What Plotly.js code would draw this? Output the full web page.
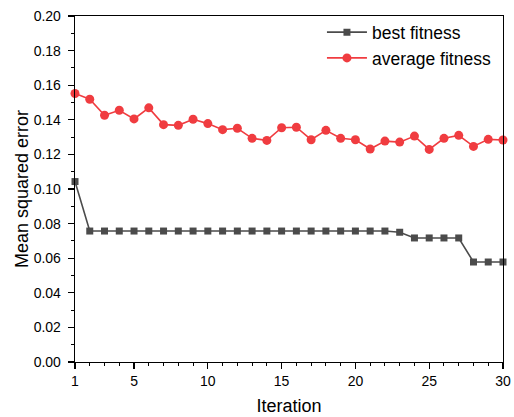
<!DOCTYPE html>
<html>
<head>
<meta charset="utf-8">
<script src="https://cdn.plot.ly/plotly-3.0.1.min.js"></script>
<style>html,body{margin:0;padding:0;background:#fff;}#chart{width:514px;height:417px;}</style>
</head>
<body>
<div id="chart"></div>
<script>
const iterations = [1,2,3,4,5,6,7,8,9,10,11,12,13,14,15,16,17,18,19,20,21,22,23,24,25,26,27,28,29,30];
const bestFitness = [0.1043,0.0757,0.0757,0.0757,0.0757,0.0757,0.0757,0.0757,0.0757,0.0757,0.0757,0.0757,0.0757,0.0757,0.0757,0.0757,0.0757,0.0757,0.0757,0.0757,0.0757,0.0757,0.0750,0.0717,0.0717,0.0717,0.0717,0.0578,0.0578,0.0578];
const averageFitness = [0.1552,0.1519,0.1426,0.1455,0.1405,0.1469,0.1372,0.1368,0.1403,0.1378,0.1343,0.1351,0.1293,0.1281,0.1354,0.1357,0.1285,0.1339,0.1293,0.1285,0.1231,0.1277,0.1271,0.1306,0.1229,0.1293,0.1310,0.1246,0.1287,0.1283];
const xTickVals = [1,5,10,15,20,25,30];
const seriesNames = ['best fitness','average fitness'];

const traces = [
  {x: iterations, y: bestFitness, name: seriesNames[0], type: 'scatter', mode: 'lines+markers',
   line: {color: '#4b4b4b', width: 1.6}, marker: {symbol: 'square', size: 7, color: '#4b4b4b'}, cliponaxis: false},
  {x: iterations, y: averageFitness, name: seriesNames[1], type: 'scatter', mode: 'lines+markers',
   line: {color: '#f03c40', width: 1.6}, marker: {symbol: 'circle', size: 9, color: '#f03c40'}, cliponaxis: false}
];

const layout = {
  width: 514, height: 417,
  margin: {l: 75, r: 11, t: 16, b: 55},
  paper_bgcolor: '#fff', plot_bgcolor: '#fff',
  font: {family: 'Arial, Liberation Sans, sans-serif', color: '#000', size: 14},
  showlegend: true,
  legend: {x: 0.577, y: 1.005, xanchor: 'left', yanchor: 'top', bgcolor: 'rgba(0,0,0,0)',
           font: {size: 17.5, color: '#000'}, tracegroupgap: 0, itemwidth: 40},
  xaxis: {range: [1, 30], tickmode: 'array', tickvals: xTickVals, ticks: 'outside', ticklen: 6, tickwidth: 1.3,
          tickcolor: '#000', showline: true, linecolor: '#000', linewidth: 1.3, mirror: true, showgrid: false, zeroline: false,
          minor: {dtick: 1, ticks: 'outside', ticklen: 3, tickwidth: 1, tickcolor: '#000', showgrid: false},
          title: {text: 'Iteration', font: {size: 18}, standoff: 11}, tickfont: {size: 14}},
  yaxis: {range: [0, 0.2], dtick: 0.02, tickformat: '.2f', ticks: 'outside', ticklen: 6, tickwidth: 1.3,
          tickcolor: '#000', showline: true, linecolor: '#000', linewidth: 1.3, mirror: true, showgrid: false, zeroline: false,
          ticklabelstandoff: 4,
          minor: {dtick: 0.01, ticks: 'outside', ticklen: 3, tickwidth: 1, tickcolor: '#000', showgrid: false},
          title: {text: 'Mean squared error', font: {size: 18}, standoff: 0}, tickfont: {size: 14}}
};

Plotly.newPlot('chart', traces, layout, {displayModeBar: false, staticPlot: true});
</script>
</body>
</html>
